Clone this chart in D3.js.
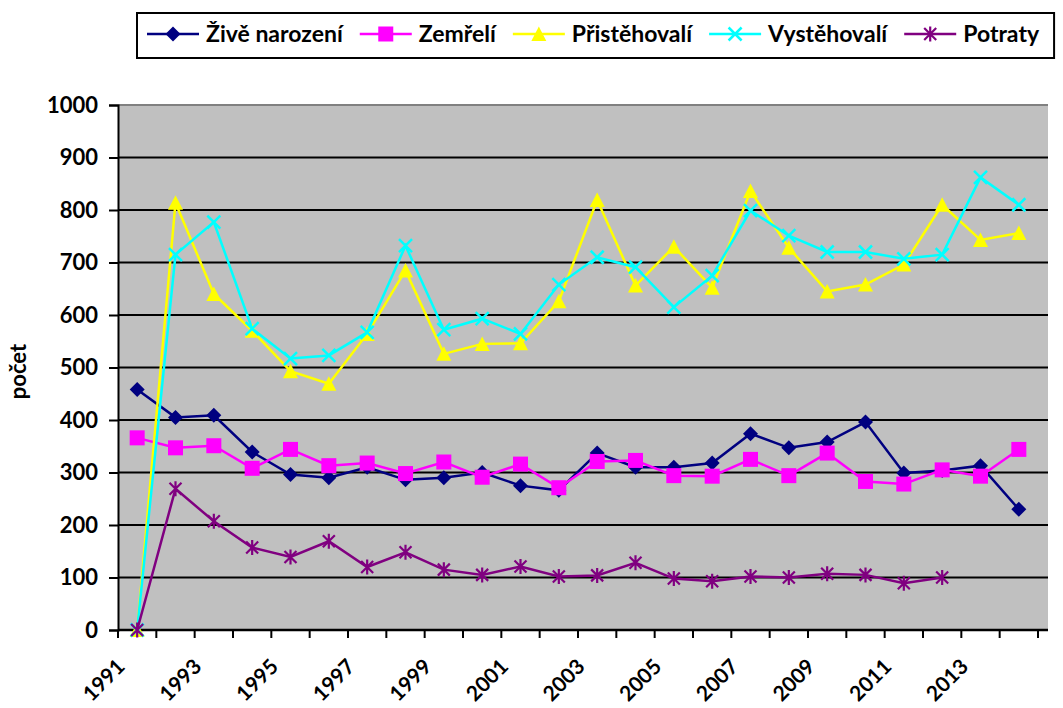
<!DOCTYPE html>
<html>
<head>
<meta charset="utf-8">
<script src="https://cdn.jsdelivr.net/npm/d3@7"></script>
<style>
    body { margin: 0; background: #fff; }
    svg text { font-family: Lato, "Open Sans", sans-serif; font-weight: bold; fill: #000; }
</style>
</head>
<body>
<div id="chart"></div>
<script>

var years = [1991, 1992, 1993, 1994, 1995, 1996, 1997, 1998, 1999, 2000, 2001, 2002,
             2003, 2004, 2005, 2006, 2007, 2008, 2009, 2010, 2011, 2012, 2013, 2014];

var zive = [458, 405, 409, 339, 296, 290, 310, 286, 290, 300, 275, 266,
            337, 310, 310, 318, 374, 347, 358, 396, 299, 304, 313, 230];
var zemreli = [366, 347, 351, 308, 344, 313, 318, 298, 320, 291, 316, 271,
               321, 323, 294, 293, 325, 294, 337, 283, 278, 305, 293, 344];
var pristehovali = [0, 814, 640, 570, 493, 469, 564, 685, 526, 545, 546, 626,
                    819, 656, 730, 652, 836, 728, 645, 658, 696, 810, 743, 756];
var vystehovali = [0, 715, 777, 574, 517, 523, 567, 732, 572, 593, 564, 658,
                   710, 691, 615, 675, 799, 751, 720, 720, 707, 715, 862, 810];
var potraty = [0, 269, 207, 157, 139, 169, 120, 148, 115, 105, 121, 102,
               104, 128, 98, 93, 102, 100, 107, 105, 89, 100, null, null];

var seriesNames = ["Živě narození", "Zemřelí", "Přistěhovalí", "Vystěhovalí", "Potraty"];
var seriesColors = ["#000080", "#ff00ff", "#ffff00", "#00ffff", "#800080"];
var seriesMarkers = ["diamond", "square", "triangle", "cross", "star"];

var yTicks = [0, 100, 200, 300, 400, 500, 600, 700, 800, 900, 1000];
var yLabel = "počet";

function Chart(){
    var self = this;
    self.init();
};

Chart.prototype.init = function(){
    var self = this;
    self.width = 1063;
    self.height = 708;
    self.margin = {top: 105, left: 118, bottom: 78, right: 25};
    self.plotW = self.width - self.margin.left - self.margin.right;
    self.plotH = self.height - self.margin.top - self.margin.bottom;

    self.svg = d3.select("#chart").append("svg")
        .attr("width", self.width)
        .attr("height", self.height);
};

// marker path drawn at 0,0
Chart.prototype.marker = function(sel, type, color){
    var g = sel;
    if (type == "diamond"){
        g.append("path").attr("d", "M0,-7.5L7.5,0L0,7.5L-7.5,0Z").attr("fill", color);
    } else if (type == "square"){
        g.append("rect").attr("x", -7.5).attr("y", -7.5).attr("width", 15).attr("height", 15).attr("fill", color);
    } else if (type == "triangle"){
        g.append("path").attr("d", "M0,-7.5L7.5,7L-7.5,7Z").attr("fill", color);
    } else if (type == "cross"){
        g.append("path").attr("d", "M-6.5,-6.5L6.5,6.5M-6.5,6.5L6.5,-6.5")
            .attr("stroke", color).attr("stroke-width", 2.5).attr("fill", "none");
    } else if (type == "star"){
        g.append("path").attr("d", "M-6,-6L6,6M-6,6L6,-6M0,-7.5L0,7.5")
            .attr("stroke", color).attr("stroke-width", 2.2).attr("fill", "none");
    }
};

Chart.prototype.update = function(){
    var self = this;
    var data = [zive, zemreli, pristehovali, vystehovali, potraty];

    var x = d3.scaleBand().domain(years).range([0, 920]);
    var y = d3.scaleLinear().domain([0, 1000]).range([self.plotH, 0]);

    var plot = self.svg.append("g")
        .attr("transform", "translate(" + self.margin.left + "," + self.margin.top + ")");

    plot.append("rect")
        .attr("x", 0).attr("y", 0)
        .attr("width", self.plotW + 10).attr("height", self.plotH)
        .attr("fill", "#c0c0c0");

    plot.append("line")
        .attr("x1", 0).attr("x2", self.plotW + 10)
        .attr("y1", 0).attr("y2", 0)
        .attr("stroke", "#808080").attr("stroke-width", 2);

    // gridlines
    plot.selectAll(".grid").data(yTicks.filter(function(d){ return d > 0 && d < 1000; }))
        .enter().append("line")
        .attr("class", "grid")
        .attr("x1", 0).attr("x2", self.plotW + 10)
        .attr("y1", function(d){ return y(d); })
        .attr("y2", function(d){ return y(d); })
        .attr("stroke", "#000").attr("stroke-width", 2);

    // y axis
    var yAxis = d3.axisLeft(y).tickValues(yTicks).tickFormat(d3.format("d")).tickSize(9).tickPadding(11);
    var ya = plot.append("g").call(yAxis);
    ya.select(".domain").attr("stroke", "#000").attr("stroke-width", 2);
    ya.selectAll(".tick line").attr("stroke", "#000").attr("stroke-width", 2);
    ya.selectAll("text").style("font-size", "22px").attr("fill", "#000");

    // x axis ticks at category edges
    var edges = d3.range(years.length + 1).map(function(i){ return i * x.step(); });
    var xa = plot.append("g").attr("transform", "translate(0," + self.plotH + ")");
    xa.append("line")
        .attr("x1", 0).attr("x2", self.plotW + 10)
        .attr("stroke", "#000").attr("stroke-width", 2.5);
    xa.selectAll(".xtick").data(edges).enter().append("line")
        .attr("x1", function(d){ return d; }).attr("x2", function(d){ return d; })
        .attr("y1", 0).attr("y2", 8)
        .attr("stroke", "#000").attr("stroke-width", 2);

    xa.selectAll(".xlabel").data(years.filter(function(d, i){ return i % 2 == 0; }))
        .enter().append("text")
        .attr("transform", function(d){
            return "translate(" + (x(d) + x.bandwidth()/2 - 11) + ",38) rotate(-45)";
        })
        .attr("text-anchor", "end")
        .style("font-size", "21px")
        .text(function(d){ return d; });

    // y label
    self.svg.append("text")
        .attr("transform", "translate(26," + (self.margin.top + self.plotH/2 + 4) + ") rotate(-90)")
        .attr("text-anchor", "middle")
        .style("font-size", "22px")
        .text(yLabel);

    // series
    var line = d3.line()
        .defined(function(d){ return d != null; })
        .x(function(d, i){ return x(years[i]) + x.bandwidth()/2; })
        .y(function(d){ return y(d); });

    data.forEach(function(vals, s){
        plot.append("path")
            .datum(vals)
            .attr("d", line)
            .attr("fill", "none")
            .attr("stroke", seriesColors[s])
            .attr("stroke-width", 2.5);

        vals.forEach(function(v, i){
            if (v == null) return;
            var g = plot.append("g")
                .attr("transform", "translate(" + (x(years[i]) + x.bandwidth()/2) + "," + y(v) + ")");
            self.marker(g, seriesMarkers[s], seriesColors[s]);
        });
    });

    // legend
    var legend = self.svg.append("g");
    var box = legend.append("rect")
        .attr("x", 137).attr("y", 13)
        .attr("height", 45)
        .attr("fill", "#fff").attr("stroke", "#000").attr("stroke-width", 2);

    var lx = 147;
    seriesNames.forEach(function(name, s){
        var item = legend.append("g").attr("transform", "translate(" + lx + ",34)");
        item.append("line").attr("x1", 0).attr("x2", 52)
            .attr("stroke", seriesColors[s]).attr("stroke-width", 2.5);
        self.marker(item.append("g").attr("transform", "translate(26,0)"), seriesMarkers[s], seriesColors[s]);
        var t = item.append("text")
            .attr("x", 59).attr("y", 8)
            .style("font-size", "23px")
            .text(name);
        lx += 59 + t.node().getComputedTextLength() + 17;
    });
    box.attr("width", lx - 137 - 2);
};

var chart = new Chart();
chart.update();

</script>
</body>
</html>
